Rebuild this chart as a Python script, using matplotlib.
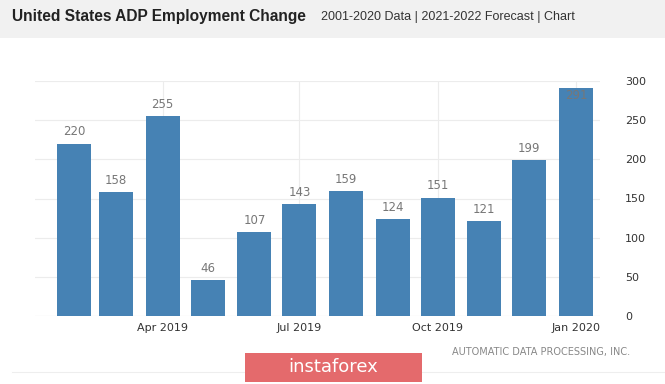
import datetime as dt
import matplotlib
matplotlib.use("Agg")
import matplotlib.pyplot as plt
import matplotlib.dates as mdates
from matplotlib.patches import Rectangle

# monthly ADP employment change (thousands)
months = ['2019-02', '2019-03', '2019-04', '2019-05', '2019-06', '2019-07',
          '2019-08', '2019-09', '2019-10', '2019-11', '2019-12', '2020-01']
values = [220, 158, 255, 46, 107, 143, 159, 124, 151, 121, 199, 291]
tick_months = ['2019-04', '2019-07', '2019-10', '2020-01']
tick_labels = ['Apr 2019', 'Jul 2019', 'Oct 2019', 'Jan 2020']
y_ticks = [0, 50, 100, 150, 200, 250, 300]

def to_num(m):
    return mdates.date2num(dt.datetime.strptime(m, '%Y-%m'))

x = [to_num(m) for m in months]

fig = plt.figure(figsize=(6.65, 3.84), dpi=100)
fig.patch.set_facecolor('white')

# header band
fig.add_artist(Rectangle((0, 1 - 38 / 384), 1, 38 / 384, transform=fig.transFigure,
                         facecolor='#f1f1f1', edgecolor='none', zorder=0))
fig.text(12 / 665, 1 - 17 / 384, 'United States ADP Employment Change',
         fontsize=11.2, fontweight='bold', color='#222222', va='center', ha='left',
         family='Liberation Sans')
fig.text(321 / 665, 1 - 17 / 384, '2001-2020 Data | 2021-2022 Forecast | Chart',
         fontsize=9, color='#333333', va='center', ha='left',
         family='Liberation Sans')

ax = fig.add_axes([35 / 665, 1 - 316 / 384, 565 / 665, 235 / 384])
ax.bar(x, values, width=22.6, color='#4682b4', zorder=2)

for xi, v in zip(x, values):
    ax.text(xi, min(v + 15, 281), str(v), ha='center', va='center',
            fontsize=8.5, color='#777777', zorder=3)

ax.set_ylim(0, 300)
ax.set_xlim(to_num('2019-01') + 5, to_num('2020-01') + 16)
ax.set_yticks(y_ticks)
ax.set_xticks([to_num(m) for m in tick_months])
ax.set_xticklabels(tick_labels)
ax.yaxis.tick_right()
ax.tick_params(axis='both', length=0, labelsize=8, colors='#333333')
ax.tick_params(axis='y', pad=18)
ax.tick_params(axis='x', pad=5)
ax.grid(True, color='#ececec', linewidth=0.8, zorder=0)
for s in ax.spines.values():
    s.set_visible(False)
ax.axhline(0, color='#dddddd', linewidth=0.8, zorder=1)

fig.text(630 / 665, 1 - 352 / 384, 'AUTOMATIC DATA PROCESSING, INC.',
         fontsize=7, color='#888888', ha='right', va='center')
fig.add_artist(plt.Line2D([12 / 665, 1], [1 - 372 / 384] * 2, transform=fig.transFigure,
                          color='#eeeeee', linewidth=0.8))

# watermark logo
fig.add_artist(Rectangle((245 / 665, 1 - 382 / 384), 177 / 665, 29 / 384,
                         transform=fig.transFigure, facecolor='#e46a6c',
                         edgecolor='none', zorder=5))
fig.text(333 / 665, 1 - 367 / 384, 'instaforex', fontsize=13, color='white',
         ha='center', va='center', zorder=6)

fig.savefig('out.png', dpi=100)
